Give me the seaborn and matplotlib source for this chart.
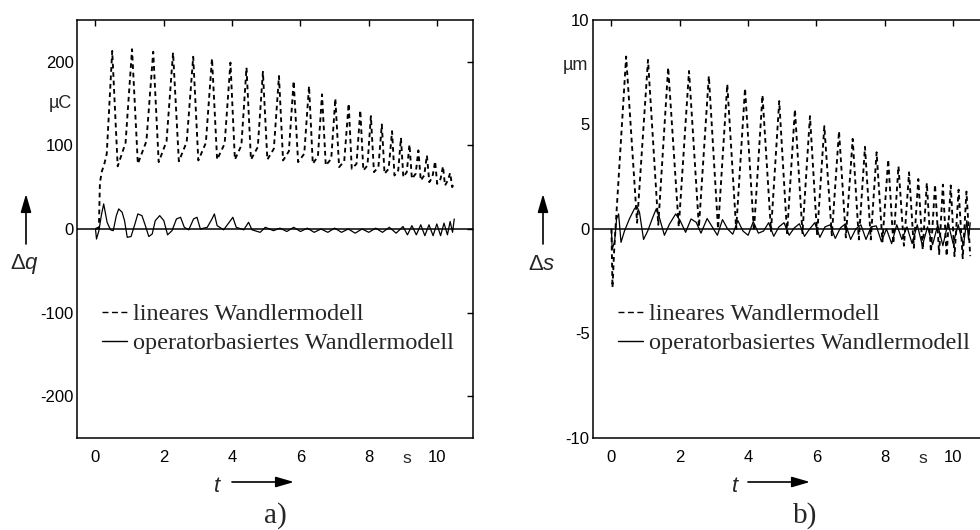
import numpy as np
import pandas as pd
import matplotlib
matplotlib.use("Agg")
import matplotlib.pyplot as plt
from matplotlib.lines import Line2D
import seaborn as sns

# ---------------- panel a): charge deviation dq in uC ----------------
# linear transducer model: start-up, then peak / trough / bump per cycle
q_lin_start_t = [0.00, 0.10, 0.13, 0.18, 0.26, 0.33]
q_lin_start_v = [0, 2, 55, 68, 78, 90]
q_lin_peak_t = [0.49, 1.07, 1.69, 2.27, 2.86, 3.41, 3.95, 4.42, 4.90, 5.37, 5.80, 6.25, 6.63,
                7.02, 7.41, 7.75, 8.06, 8.38, 8.68, 8.94, 9.19, 9.45, 9.70, 9.94, 10.17, 10.38]
q_lin_peak_v = [213, 215, 212, 211, 206, 204, 199, 193, 188, 183, 177, 171, 161,
                156, 150, 142, 135, 125, 117, 109, 101, 94, 88, 81, 75, 67]
q_lin_trough_t = [0.65, 1.24, 1.85, 2.44, 3.01, 3.56, 4.08, 4.55, 5.03, 5.49, 5.93, 6.36, 6.74,
                  7.13, 7.50, 7.84, 8.15, 8.46, 8.75, 9.01, 9.26, 9.52, 9.77, 10.00, 10.23, 10.44]
q_lin_trough_v = [75, 78, 80, 81, 82, 83, 83, 83, 83, 82, 80, 78, 76,
                  74, 72, 70, 68, 66, 64, 62, 60, 58, 56, 54, 52, 50]
q_lin_bump_t = [0.88, 1.49, 2.08, 2.67, 3.23, 3.78, 4.27, 4.75, 5.22, 5.66, 6.11, 6.51, 6.90,
                7.28, 7.64, 7.96, 8.28, 8.58, 8.86, 9.11, 9.37, 9.62, 9.86, 10.10, 10.31, 10.50]
q_lin_bump_v = [103, 105, 105, 104, 103, 102, 100, 98, 96, 93, 90, 87, 84,
                81, 78, 76, 74, 72, 70, 68, 66, 64, 62, 60, 58, 56]

# operator based transducer model
q_op_t = [0.00, 0.03, 0.10, 0.17, 0.24, 0.34, 0.44, 0.52, 0.61, 0.68,
          0.78, 0.85, 0.93, 1.04, 1.14, 1.24, 1.36, 1.46, 1.56, 1.66,
          1.75, 1.88, 2.00, 2.11, 2.24, 2.37, 2.49, 2.60, 2.73, 2.87,
          2.97, 3.07, 3.27, 3.41, 3.48, 3.56, 3.75, 3.95, 4.02, 4.12,
          4.34, 4.48, 4.58, 4.82, 4.97, 5.21, 5.40, 5.60, 5.80, 6.00,
          6.20, 6.40, 6.60, 6.80, 7.00, 7.20, 7.40, 7.60, 7.80, 8.00,
          8.20, 8.40, 8.60, 8.80, 9.00, 9.13, 9.26, 9.39, 9.52, 9.64,
          9.76, 9.88, 9.99, 10.10, 10.20, 10.30, 10.38, 10.45, 10.50]
q_op_v = [0, -12, -2, 16, 30, 8, -1, -2, 16, 24,
          20, 10, -10, -9, 4, 18, 16, 4, -9, -6,
          10, 16, 10, -7, -2, 12, 14, 2, -1, 12,
          14, 0, 2, 12, 18, 4, -1, 10, 14, 2,
          -1, 8, -1, -4, 2, -2, 1, -3, 2, -3,
          1, -4, 0, -4, 1, -4, 0, -5, 0, -4,
          1, -4, 2, -5, 3, -7, 4, -7, 5, -8,
          5, -8, 6, -8, 7, -7, 9, -4, 12]

# ---------------- panel b): displacement deviation ds in um ----------------
s_lin_start_t = [0.00, 0.03, 0.08]
s_lin_start_v = [0.0, -2.8, -1.0]
s_lin_peak_t = [0.43, 1.07, 1.66, 2.27, 2.85, 3.39, 3.91, 4.42, 4.91, 5.37, 5.81, 6.23, 6.66,
                7.06, 7.42, 7.76, 8.10, 8.40, 8.71, 8.98, 9.23, 9.47, 9.70, 9.93, 10.16, 10.39]
s_lin_peak_v = [8.25, 8.09, 7.73, 7.56, 7.32, 6.92, 6.73, 6.40, 6.12, 5.72, 5.40, 4.92, 4.68,
                4.31, 3.93, 3.67, 3.32, 3.00, 2.71, 2.39, 2.20, 2.12, 2.12, 2.08, 1.88, 1.79]
s_lin_trough_t = [0.75, 1.37, 1.97, 2.56, 3.12, 3.65, 4.17, 4.67, 5.14, 5.59, 6.02, 6.45, 6.86,
                  7.24, 7.59, 7.93, 8.25, 8.56, 8.85, 9.11, 9.35, 9.59, 9.81, 10.04, 10.28, 10.50]
s_lin_trough_v = [0.3, 0.2, 0.1, 0.1, 0.0, 0.0, -0.1, -0.1, -0.2, -0.2, -0.3, -0.3, -0.4,
                  -0.5, -0.5, -0.6, -0.7, -0.8, -0.9, -1.0, -1.1, -1.2, -1.3, -1.3, -1.4, -1.3]

s_op_t = [0.00, 0.02, 0.09, 0.15, 0.21, 0.28, 0.38, 0.53, 0.67, 0.74,
          0.82, 0.94, 1.06, 1.21, 1.31, 1.40, 1.55, 1.70, 1.88, 2.01,
          2.17, 2.33, 2.48, 2.62, 2.80, 2.95, 3.10, 3.25, 3.40, 3.55,
          3.70, 3.85, 4.00, 4.15, 4.30, 4.45, 4.60, 4.75, 4.90, 5.05,
          5.20, 5.35, 5.50, 5.65, 5.80, 5.95, 6.10, 6.25, 6.40, 6.55,
          6.70, 6.85, 7.00, 7.15, 7.30, 7.45, 7.60, 7.75, 7.90, 8.05,
          8.20, 8.35, 8.50, 8.65, 8.80, 8.95, 9.10, 9.25, 9.40, 9.55,
          9.70, 9.85, 10.00, 10.15, 10.30, 10.40, 10.45, 10.50]
s_op_v = [0, -0.96, -0.64, 0.48, 0.72, -0.64, -0.1, 0.5, 0.96, 1.1,
          0.8, -0.5, -0.1, 0.56, 0.96, 0.56, -0.3, 0.24, 0.72, 0.4,
          -0.16, 0.48, 0.32, -0.2, 0.5, 0.1, -0.3, 0.45, 0.0, -0.25,
          0.4, -0.1, -0.3, 0.35, -0.2, -0.1, 0.3, -0.35, 0.1, 0.3,
          -0.3, 0.05, 0.25, -0.35, 0.0, 0.3, -0.4, 0.1, 0.2, -0.45,
          0.05, 0.25, -0.5, 0.0, 0.2, -0.5, 0.1, 0.15, -0.6, 0.0,
          -0.7, 0.2, -0.5, 0.1, -0.7, 0.2, -0.8, 0.1, -0.75, 0.2,
          -0.8, 0.3, -0.7, 0.2, -0.8, 0.4, -0.5, 0.3]

x_ticks = [0, 2, 4, 6, 8, 10]
q_ticks = [-200, -100, 0, 100, 200]
s_ticks = [-10, -5, 0, 5, 10]
legend_labels = ["lineares Wandlermodell", "operatorbasiertes Wandlermodell"]


def interleave(start_t, start_v, *pairs):
    # peak, trough(, bump) of each cycle one after another in time order
    t = np.column_stack([p[0] for p in pairs]).ravel()
    v = np.column_stack([p[1] for p in pairs]).ravel()
    return pd.DataFrame({"t": np.r_[start_t, t], "v": np.r_[start_v, v]})


q_lin = interleave(q_lin_start_t, q_lin_start_v, (q_lin_peak_t, q_lin_peak_v),
                   (q_lin_trough_t, q_lin_trough_v), (q_lin_bump_t, q_lin_bump_v))
q_op = pd.DataFrame({"t": q_op_t, "v": q_op_v})
s_lin = interleave(s_lin_start_t, s_lin_start_v, (s_lin_peak_t, s_lin_peak_v),
                   (s_lin_trough_t, s_lin_trough_v))
s_op = pd.DataFrame({"t": s_op_t, "v": s_op_v})

sns.set_theme(style="white")
plt.rcParams.update({
    "font.family": ["Liberation Sans", "DejaVu Sans"],
    "axes.unicode_minus": False,
    "mathtext.fontset": "custom",
    "mathtext.rm": "Liberation Sans",
    "mathtext.it": "Liberation Sans:italic",
    "axes.edgecolor": "black",
    "axes.linewidth": 1.1,
})

DASH = (0, (2.5, 2.0))
SERIF = ["Liberation Serif", "DejaVu Serif"]

fig = plt.figure(figsize=(9.8, 5.3), dpi=100)
ax_q = fig.add_axes([0.0786, 0.1736, 0.4041, 0.7887])
ax_s = fig.add_axes([0.6051, 0.1736, 0.4041, 0.7887])


def draw_panel(ax, lin, op, ylim, yticks, unit, unit_y):
    ax.axhline(0, color="black", lw=1.1, zorder=1)
    sns.lineplot(data=lin, x="t", y="v", ax=ax, color="black", lw=1.35,
                 linestyle=DASH, sort=False, estimator=None)
    sns.lineplot(data=op, x="t", y="v", ax=ax, color="black", lw=0.9,
                 sort=False, estimator=None)
    ax.set_xlim(-0.54, 11.05)
    ax.set_ylim(*ylim)
    ax.set_xticks(x_ticks)
    ax.set_yticks(yticks)
    ax.set_yticklabels([str(v) for v in yticks])
    ax.set_xlabel("")
    ax.set_ylabel("")
    ax.tick_params(direction="in", top=True, right=True, length=4, width=1,
                   labelsize=12, colors="black")
    ax.tick_params(axis="x", pad=9)
    ax.tick_params(axis="y", pad=2.5)
    for sp in ax.spines.values():
        sp.set_visible(True)
        sp.set_color("black")
    # units written in the tick label columns
    ax.text(9.1, -0.048, "s", transform=ax.get_xaxis_transform(),
            ha="center", va="center", fontsize=12.5)
    ax.text(-0.013, unit_y, unit, transform=ax.get_yaxis_transform(),
            ha="right", va="center", fontsize=13)
    handles = [Line2D([], [], color="black", lw=1.0, linestyle=(0, (4.3, 2.5))),
               Line2D([], [], color="black", lw=1.0)]
    ax.legend(handles, legend_labels, loc="upper left", bbox_to_anchor=(0.063, 0.322),
              frameon=False, borderpad=0, borderaxespad=0, handlelength=1.03,
              handletextpad=0.25, labelspacing=0.28,
              prop={"family": SERIF, "size": 17.5})


draw_panel(ax_q, q_lin, q_op, (-250, 250), q_ticks, "\u00b5C", 150)
draw_panel(ax_s, s_lin, s_op, (-10, 10), s_ticks, "\u00b5m", 7.8)

W, H = 980.0, 530.0


def fpos(x, y):
    return (x / W, 1 - y / H)


arrow = dict(arrowstyle="-|>,head_length=0.55,head_width=0.16", color="black",
             lw=1.2, shrinkA=0, shrinkB=0, mutation_scale=20)

# y-axis quantities with upward arrows
for x, name in [(26, r"$\Delta q$"), (543, r"$\Delta s$")]:
    fig.text(*fpos(x - 1, 264), name, ha="center", va="center", fontsize=16)
    fig.add_artist(matplotlib.patches.FancyArrowPatch(
        fpos(x, 244), fpos(x, 194), transform=fig.transFigure, **arrow))

# time axis labels with arrows to the right
for xt, xa0, xa1, panel, xp in [(217, 232, 294, "a)", 275), (735, 748, 810, "b)", 805)]:
    fig.text(*fpos(xt, 487), r"$t$", ha="center", va="center", fontsize=16)
    fig.add_artist(matplotlib.patches.FancyArrowPatch(
        fpos(xa0, 482), fpos(xa1, 482), transform=fig.transFigure, **arrow))
    fig.text(*fpos(xp, 516), panel, ha="center", va="center", fontsize=21,
             family=SERIF)

fig.savefig("out.png", dpi=100)
